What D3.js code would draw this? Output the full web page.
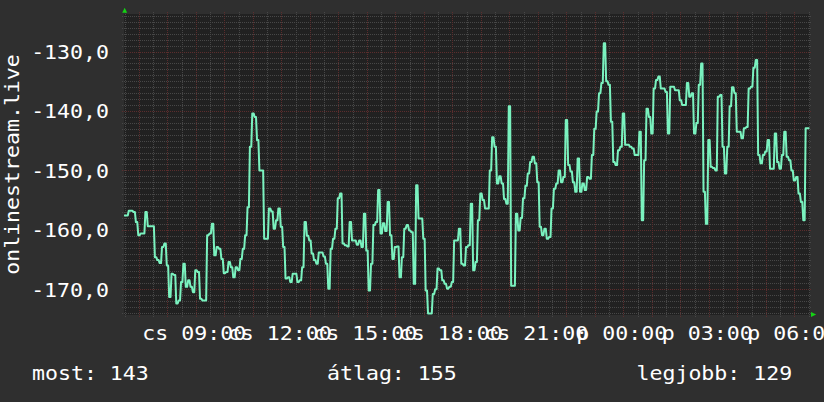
<!DOCTYPE html>
<html><head><meta charset="utf-8">
<script src="https://cdn.jsdelivr.net/npm/d3@7"></script>
<style>html,body{margin:0;padding:0;background:#2f2f2f;} svg{display:block}</style>
</head><body>
<script>
// ---------- data ----------
const seriesStart = "2024-01-04T06:29:00Z";   // csütörtök
const stepMinutes = 5;
const values = [
-157.6,-157.6,-156.8,-156.8,-157.0,-158.7,-160.9,-160.6,-160.6,-157.0,
-159.4,-159.4,-159.4,-164.6,-165.1,-165.6,-162.9,-162.3,-166.0,-171.3,
-167.4,-167.6,-172.4,-171.9,-168.8,-165.7,-169.6,-168.5,-169.6,-170.5,
-166.8,-167.1,-171.6,-171.9,-171.9,-160.9,-160.6,-159.0,-164.3,-162.9,
-163.2,-164.9,-167.3,-167.1,-165.4,-166.3,-168.0,-166.3,-166.8,-164.9,
-163.2,-160.9,-156.2,-146.0,-140.4,-141.0,-144.9,-150.0,-150.0,-161.5,
-161.5,-156.4,-156.9,-159.8,-158.4,-156.4,-159.5,-162.9,-168.2,-168.0,
-168.8,-167.4,-167.4,-168.8,-168.5,-166.3,-158.7,-161.0,-161.8,-164.0,
-165.1,-165.7,-163.8,-163.8,-164.5,-165.7,-169.9,-163.2,-161.5,-159.8,
-154.7,-153.9,-162.3,-162.6,-162.8,-158.7,-161.8,-161.8,-162.5,-161.8,
-162.9,-157.3,-163.5,-170.2,-165.7,-159.2,-158.7,-153.3,-160.6,-158.9,
-160.2,-155.3,-160.9,-164.9,-162.9,-162.8,-168.0,-164.6,-159.8,-159.2,
-160.1,-160.4,-169.1,-152.5,-158.1,-158.1,-161.5,-170.2,-174.1,-174.1,
-170.8,-170.0,-166.5,-166.8,-168.5,-169.1,-169.9,-169.6,-168.8,-161.8,
-161.8,-159.8,-165.7,-166.0,-162.9,-162.6,-155.6,-166.8,-165.4,-158.4,
-153.9,-155.0,-156.4,-156.4,-150.0,-144.4,-146.0,-152.2,-151.0,-152.2,
-154.8,-155.6,-139.2,-169.4,-169.4,-157.3,-160.1,-158.0,-154.7,-152.6,
-150.5,-148.6,-147.7,-148.8,-152.0,-159.5,-160.9,-159.8,-161.5,-161.2,
-156.4,-153.1,-152.2,-150.0,-152.0,-151.1,-141.5,-149.1,-150.2,-152.0,
-153.6,-148.0,-153.6,-152.2,-153.3,-151.1,-151.4,-147.4,-143.0,-140.1,
-137.0,-135.3,-128.6,-135.0,-135.6,-141.8,-148.6,-149.1,-146.6,-146.0,
-140.4,-145.7,-145.7,-146.0,-146.3,-147.4,-147.4,-143.5,-158.4,-148.3,
-139.6,-141.0,-143.8,-136.2,-134.8,-134.2,-136.2,-136.2,-136.8,-143.8,
-135.9,-135.9,-136.5,-136.5,-138.2,-139.0,-139.0,-135.3,-137.6,-137.0,
-143.8,-142.0,-135.6,-132.0,-153.6,-159.0,-144.9,-149.4,-149.6,-150.0,
-137.6,-137.3,-146.0,-150.5,-146.0,-139.2,-136.0,-137.0,-143.5,-143.5,
-144.6,-142.9,-142.7,-136.2,-135.9,-132.7,-131.4,-147.4,-148.8,-147.4,
-146.8,-144.9,-149.7,-149.7,-143.8,-148.6,-149.7,-147.4,-143.5,-147.7,
-148.3,-150.0,-151.7,-151.1,-153.9,-155.3,-158.4,-142.9,-142.9
];
const axisStart = "2024-01-04T06:30:00Z";
const axisHours = 24;
const yMajorTicks = [-170, -160, -150, -140, -130];
const yDomain = [-174.34, -123.67];
const dayNames = ["v", "h", "k", "sze", "cs", "p", "szo"];
const yTitle = "onlinestream.live";
const legendLabels = ["most", "átlag", "legjobb"];
const legendValues = [143, 155, 129];

// ---------- layout ----------
const W = 824, H = 402;
const plot = {l: 124, r: 810, t: 14, b: 315};
const FONT = "'DejaVu Sans Mono', monospace";
const FS = 19.6, SX = 1.1;
const COL = {bg: "#2f2f2f", plot: "#212121", grid: "#474747", mgrid: "#5c2d2d",
             line: "#7af2bf", text: "#ffffff", arrow: "#14d214"};

const svg = d3.select("body").append("svg").attr("width", W).attr("height", H);
svg.append("rect").attr("width", W).attr("height", H).attr("fill", COL.bg);
svg.append("rect").attr("x", plot.l).attr("y", plot.t)
   .attr("width", plot.r - plot.l).attr("height", plot.b - plot.t).attr("fill", COL.plot);

const t0 = new Date(axisStart);
const t1 = new Date(t0.getTime() + axisHours * 3600e3);
const x = d3.scaleUtc().domain([t0, t1]).range([124.5, 808.5]);
const y = d3.scaleLinear().domain(yDomain).range([plot.b, plot.t]);

// grid
const g = svg.append("g").attr("shape-rendering", "crispEdges");
const minorY = d3.range(Math.ceil(yDomain[0]), Math.floor(yDomain[1]) + 1).filter(v => v % 10 !== 0);
g.selectAll(".hm").data(minorY).join("line")
  .attr("x1", 121.5).attr("x2", 812).attr("y1", d => Math.round(y(d)) + 0.5).attr("y2", d => Math.round(y(d)) + 0.5)
  .attr("stroke", COL.grid).attr("stroke-dasharray", "1,1");
const minorX = d3.utcMinute.every(30).range(t0, new Date(t1.getTime() + 1)).filter(d => d.getUTCMinutes() !== 0);
g.selectAll(".vm").data(minorX).join("line")
  .attr("y1", 12).attr("y2", 317.5).attr("x1", d => Math.round(x(d)) + 0.5).attr("x2", d => Math.round(x(d)) + 0.5)
  .attr("stroke", COL.grid).attr("stroke-dasharray", "1,1");
g.selectAll(".hM").data(yMajorTicks).join("line")
  .attr("x1", 121.5).attr("x2", 812).attr("y1", d => Math.round(y(d)) + 0.5).attr("y2", d => Math.round(y(d)) + 0.5)
  .attr("stroke", COL.mgrid).attr("stroke-dasharray", "1,1");
const majorX = d3.utcHour.every(1).range(t0, t1);
g.selectAll(".vM").data(majorX).join("line")
  .attr("y1", 12).attr("y2", 317.5).attr("x1", d => Math.round(x(d)) + 0.5).attr("x2", d => Math.round(x(d)) + 0.5)
  .attr("stroke", COL.mgrid).attr("stroke-dasharray", "1,1");

// line: each sample holds its value across its step, moving to the next over ~1px (rrdtool style)
svg.append("clipPath").attr("id", "clip").append("rect")
  .attr("x", plot.l).attr("y", plot.t).attr("width", plot.r - plot.l).attr("height", plot.b - plot.t);
const s0 = new Date(seriesStart).getTime();
const stepMs = stepMinutes * 60e3;
const series = values.map((v, i) => ({t: new Date(s0 + i * stepMs), v}));
const pts = [];
series.forEach((d, i) => {
  const xa = x(d.t), xb = x(new Date(d.t.getTime() + stepMs));
  pts.push([xa, y(d.v)]);
  pts.push([xb - 1, y(d.v)]);
});
svg.append("path").attr("d", d3.line()(pts)).attr("clip-path", "url(#clip)")
  .attr("fill", "none").attr("stroke", COL.line).attr("stroke-width", 2).attr("stroke-linejoin", "round");

// arrows
svg.append("path").attr("d", "M122.2,12.8L127.2,12.8L124.7,7.8Z").attr("fill", COL.arrow);
svg.append("path").attr("d", "M811,312L811,317L816.2,314.5Z").attr("fill", COL.arrow);

// text helper
function txt(str, tx, ty, anchor, rot) {
  const gg = svg.append("g").attr("transform", `translate(${tx},${ty})` + (rot ? ` rotate(${rot})` : "") + ` scale(${SX},1)`);
  gg.append("text").text(str).attr("text-anchor", anchor).attr("fill", COL.text)
    .attr("font-family", FONT).attr("font-size", FS).attr("xml:space", "preserve");
}
const loc = d3.formatLocale({decimal: ",", thousands: " ", grouping: [3], currency: ["", ""], minus: "-"});
const yFmt = loc.format(".1f");
yMajorTicks.forEach(v => txt(yFmt(v), 109, y(v) + 7.4, "end"));

const xLabelTicks = d3.utcHour.every(3).range(t0, t1);
const hhmm = d3.utcFormat("%H:%M");
xLabelTicks.forEach(d => txt(dayNames[d.getUTCDay()] + " " + hhmm(d), x(d) - 1.5, 339.5, "middle"));

txt(yTitle, 18.5, (plot.t + plot.b) / 2, "middle", -90);

const legendX = [32, 327, 636.5];
legendLabels.forEach((l, i) => txt(l + ": " + legendValues[i], legendX[i], 380, "start"));
</script>
</body></html>
